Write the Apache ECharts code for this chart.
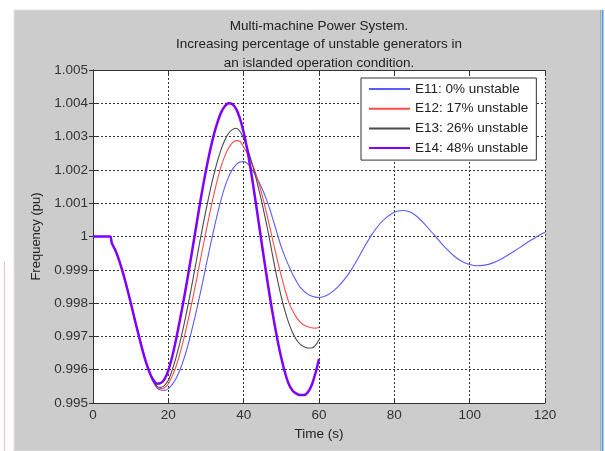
<!DOCTYPE html>
<html>
<head>
<meta charset="utf-8">
<script src="https://cdn.jsdelivr.net/npm/echarts@6/dist/echarts.min.js"></script>
<style>
  html, body { margin: 0; padding: 0; background: #fff; }
  #chart { width: 605px; height: 451px; }
</style>
</head>
<body>
<div id="chart"></div>
<script>
// time base (s) shared by the four islanded cases, 0..60 s
const time = [0, 1, 2, 3, 4, 4.6, 5, 6, 7, 8, 9, 10, 11, 12, 13, 14, 15, 16, 17, 18, 19, 20,
  21, 22, 23, 24, 25, 26, 27, 28, 29, 30, 31, 32, 33, 34, 35, 36, 37, 38, 39, 40,
  41, 42, 43, 44, 45, 46, 47, 48, 49, 50, 51, 52, 53, 54, 55, 56, 57, 58, 59, 60]

// frequency (pu)
const e11 = [1, 1, 1, 1, 1, 1, 0.9998, 0.99957, 0.99926, 0.99889, 0.99847, 0.99802, 0.99755, 0.99709, 0.99665, 0.99625,
  0.9959, 0.99562, 0.99545, 0.99539, 0.99538, 0.99543, 0.99555, 0.99573, 0.99597, 0.99628, 0.99665, 0.99708,
  0.99755, 0.99805, 0.99857, 0.99911, 0.99965, 1.00017, 1.00066, 1.00111, 1.00149, 1.00179, 1.00201, 1.00216,
  1.00224, 1.00225, 1.00219, 1.00205, 1.00187, 1.00165, 1.00141, 1.00113, 1.0008, 1.00043, 1.00005,
  0.99968, 0.99938, 0.99911, 0.99887, 0.99866, 0.99848, 0.99836, 0.99827, 0.99821, 0.99818, 0.99817]
const e12 = [1, 1, 1, 1, 1, 1, 0.9998, 0.99957, 0.99926, 0.99889, 0.99847, 0.99802, 0.99755, 0.99709, 0.99665, 0.99625,
  0.99591, 0.99565, 0.99548, 0.99543, 0.99546, 0.99558, 0.9958, 0.99608, 0.99645, 0.99688, 0.99736, 0.99788,
  0.99843, 0.999, 0.99958, 1.00015, 1.0007, 1.00122, 1.00169, 1.0021, 1.00242, 1.00266, 1.00281, 1.00288,
  1.00286, 1.00268, 1.0025, 1.00226, 1.00196, 1.00161, 1.0012, 1.00074, 1.00025, 0.99975, 0.99927,
  0.99881, 0.99839, 0.99802, 0.99777, 0.99757, 0.99743, 0.99734, 0.99729, 0.99726, 0.99725, 0.99727]
const e13 = [1, 1, 1, 1, 1, 1, 0.9998, 0.99957, 0.99926, 0.99889, 0.99847, 0.99802, 0.99755, 0.99709, 0.99665, 0.99625,
  0.99592, 0.99567, 0.9955, 0.99547, 0.99553, 0.99568, 0.99598, 0.99635, 0.99678, 0.99727, 0.99781, 0.99839,
  0.999, 0.99962, 1.00022, 1.00079, 1.00133, 1.00182, 1.00225, 1.00261, 1.0029, 1.0031, 1.00321, 1.00325,
  1.00316, 1.00295, 1.00265, 1.00228, 1.00187, 1.00142, 1.00094, 1.00041, 0.99984, 0.99924, 0.99868,
  0.99818, 0.99775, 0.99739, 0.99711, 0.9969, 0.99677, 0.99669, 0.99665, 0.99665, 0.99672, 0.9969]
const e14 = [1, 1, 1, 1, 1, 1, 0.9998, 0.99957, 0.99926, 0.99889, 0.99847, 0.99802, 0.99755, 0.99709, 0.99665, 0.99625,
  0.99592, 0.99569, 0.99558, 0.9956, 0.99572, 0.99598, 0.99638, 0.99688, 0.99745, 0.99805, 0.99868, 0.99935,
  1.00003, 1.00072, 1.00138, 1.00199, 1.00254, 1.00302, 1.00341, 1.00372, 1.00391, 1.004, 1.00397, 1.00383,
  1.00355, 1.00313, 1.00258, 1.00192, 1.00118, 1.00041, 0.99964, 0.99888, 0.99816, 0.99749, 0.99688,
  0.99635, 0.9959, 0.99556, 0.99537, 0.99528, 0.99524, 0.99524, 0.99532, 0.99552, 0.99587, 0.99632]

// E11 keeps running to 120 s
const timeTail = [62, 64, 66, 68, 70, 72, 74, 76, 78, 80, 82, 84, 86, 88, 90, 92, 94, 96, 98, 100,
  102, 104, 106, 108, 110, 112, 114, 116, 118, 120]
const e11Tail = [0.99823, 0.99838, 0.99861, 0.9989, 0.99927, 0.99968, 1.00005, 1.00036, 1.00058, 1.00073,
  1.00078, 1.00074, 1.0006, 1.00038, 1.00012, 0.99986, 0.99961, 0.9994, 0.99925, 0.99916,
  0.99912, 0.99914, 0.9992, 0.9993, 0.99943, 0.99957, 0.99972, 0.99987, 1.00001, 1.00013]

const names = ['E11: 0% unstable', 'E12: 17% unstable', 'E13: 26% unstable', 'E14: 48% unstable']
const colors = ['#5a5aff', '#ff4a4a', '#4a4a4a', '#8000ff']

const pairs = (ts, vs) => ts.map((t, i) => [t, vs[i]])
const seriesData = [
  pairs(time, e11).concat(pairs(timeTail, e11Tail)),
  pairs(time, e12),
  pairs(time, e13),
  pairs(time, e14),
]

const FONT = 'Liberation Sans, Arial, Helvetica, sans-serif'
const FS = 13.5
const chart = echarts.init(document.getElementById('chart'))

// top / right edges of the axes box
const boxAxis = {
  axisLine: { show: true, lineStyle: { color: '#333', width: 1 } },
  axisTick: { show: true, inside: true, length: 4, lineStyle: { color: '#333' } },
  axisLabel: { show: false },
  splitLine: { show: false },
}

const option = {
  backgroundColor: '#fff',
  animation: false,
  graphic: [
    { type: 'rect', silent: true, z: -10, shape: { x: 14, y: 10, width: 587, height: 441 },
      style: { fill: '#cccccc', stroke: '#e2e2e2', lineWidth: 1 } },
    { type: 'rect', silent: true, z: -9, shape: { x: 600, y: 10, width: 1.5, height: 441 },
      style: { fill: '#a8a8a8' } },
    { type: 'rect', silent: true, z: -9, shape: { x: 602, y: 10, width: 1.5, height: 441 },
      style: { fill: '#3aa0ff' } },
    { type: 'rect', silent: true, z: -9, shape: { x: 4, y: 262, width: 1, height: 189 },
      style: { fill: '#f2c4c4' } },
  ],
  title: {
    text: 'Multi-machine Power System.\nIncreasing percentage of unstable generators in\nan islanded operation condition.',
    left: 319,
    top: 17,
    textAlign: 'center',
    padding: 0,
    textStyle: { fontFamily: FONT, fontSize: FS, fontWeight: 'normal', color: '#222', lineHeight: 18.5 },
  },
  legend: {
    orient: 'vertical',
    left: 361,
    top: 78,
    itemWidth: 41,
    itemHeight: 14,
    itemGap: 5.7,
    padding: [4, 8, 5, 7],
    backgroundColor: '#fff',
    borderColor: '#333',
    borderWidth: 1,
    borderRadius: 0,
    itemStyle: { opacity: 0 },
    textStyle: { fontFamily: FONT, fontSize: FS, color: '#222' },
    data: names,
  },
  grid: {
    left: 93, right: 60, top: 70, bottom: 48,
    show: true, backgroundColor: '#fff', borderWidth: 0,
  },
  xAxis: [
    {
      type: 'value', min: 0, max: 120, interval: 20,
      name: 'Time (s)', nameLocation: 'middle', nameGap: 22,
      nameTextStyle: { fontFamily: FONT, fontSize: FS, color: '#222' },
      axisLine: { show: true, lineStyle: { color: '#333', width: 1 } },
      axisTick: { show: true, inside: true, length: 4, lineStyle: { color: '#333' } },
      axisLabel: { fontFamily: FONT, fontSize: FS, color: '#333', margin: 5 },
      splitLine: { show: true, lineStyle: { color: '#333', type: [2, 2], width: 1 } },
    },
    Object.assign({ type: 'value', min: 0, max: 120, interval: 20, position: 'top' }, boxAxis),
  ],
  yAxis: [
    {
      type: 'value', min: 0.995, max: 1.005, interval: 0.001,
      name: 'Frequency (pu)', nameLocation: 'middle', nameGap: 44, nameRotate: 90,
      nameTextStyle: { fontFamily: FONT, fontSize: 13, color: '#222' },
      axisLine: { show: true, lineStyle: { color: '#333', width: 1 } },
      axisTick: { show: true, inside: true, length: 4, lineStyle: { color: '#333' } },
      axisLabel: {
        fontFamily: FONT, fontSize: FS, color: '#333', margin: 5,
        formatter: v => String(parseFloat(v.toFixed(3))),
      },
      splitLine: { show: true, lineStyle: { color: '#333', type: [2, 2], width: 1 } },
    },
    Object.assign({ type: 'value', min: 0.995, max: 1.005, interval: 0.001, position: 'right' }, boxAxis),
  ],
  series: names.map((name, i) => ({
    name,
    type: 'line',
    data: seriesData[i],
    xAxisIndex: 0,
    yAxisIndex: 0,
    symbol: 'none',
    smooth: 0.3,
    lineStyle: { color: colors[i], width: i === 3 ? 2.5 : 1.1 },
    itemStyle: { color: colors[i] },
    z: 2 + i,
  })),
}

chart.setOption(option)
</script>
</body>
</html>
